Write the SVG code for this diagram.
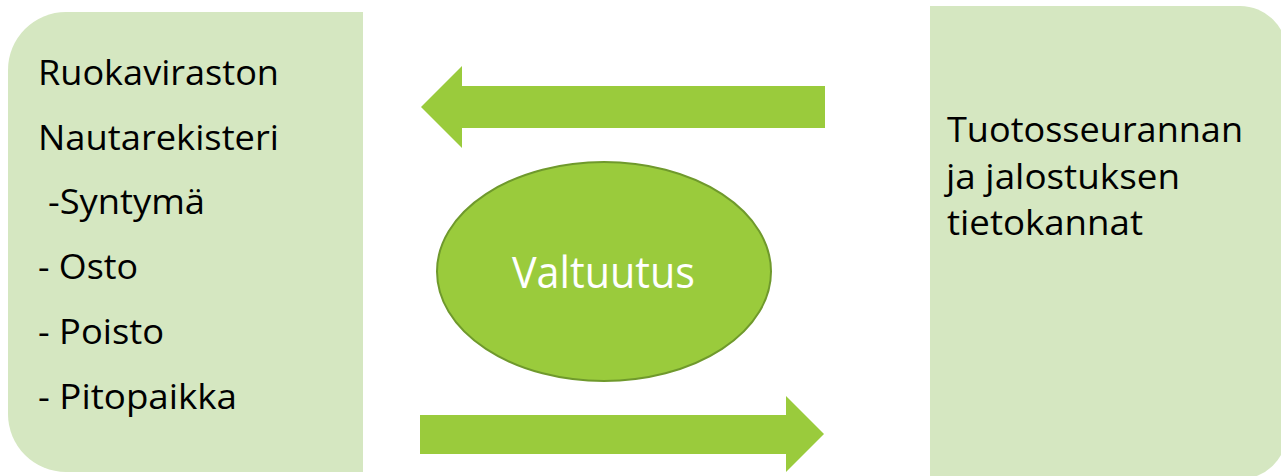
<svg xmlns="http://www.w3.org/2000/svg" width="1281" height="476" viewBox="0 0 1281 476">
  <style>
    .box { fill: #D5E7C1; }
    .arrow { fill: #9ACB3C; }
    .lbl { font-family: "Open Sans", "Noto Sans", sans-serif; font-size: 34px; fill: #000000; }
    .oval-lbl { font-family: "Open Sans", "Noto Sans", sans-serif; font-size: 43px; fill: #FFFFFF; text-anchor: middle; }
  </style>
  <rect width="1281" height="476" fill="#FFFFFF"/>
  <g id="node-ruokavirasto">
    <path class="box" d="M363,12 L66,12 A58,58 0 0 0 8,70 L8,414 A58,58 0 0 0 66,472 L363,472 Z"/>
    <text class="lbl" x="38" y="85" textLength="241" lengthAdjust="spacingAndGlyphs">Ruokaviraston</text>
    <text class="lbl" x="38" y="150" textLength="241" lengthAdjust="spacingAndGlyphs">Nautarekisteri</text>
    <text class="lbl" x="48" y="214" textLength="157" lengthAdjust="spacingAndGlyphs">-Syntymä</text>
    <text class="lbl" x="38" y="279" textLength="100" lengthAdjust="spacingAndGlyphs">- Osto</text>
    <text class="lbl" x="38" y="344" textLength="126" lengthAdjust="spacingAndGlyphs">- Poisto</text>
    <text class="lbl" x="38" y="409" textLength="199" lengthAdjust="spacingAndGlyphs">- Pitopaikka</text>
  </g>
  <g id="node-tietokannat">
    <path class="box" d="M930,6 L1240,6 A47,47 0 0 1 1287,53 L1287,432 A47,47 0 0 1 1240,479 L930,479 Z"/>
    <text class="lbl" x="947" y="142" textLength="296" lengthAdjust="spacingAndGlyphs">Tuotosseurannan</text>
    <text class="lbl" x="946" y="189" textLength="234" lengthAdjust="spacingAndGlyphs">ja jalostuksen</text>
    <text class="lbl" x="947" y="235" textLength="196" lengthAdjust="spacingAndGlyphs">tietokannat</text>
  </g>
  <g id="node-valtuutus">
    <ellipse cx="604" cy="271.5" rx="167" ry="109.5" fill="#9ACB3C" stroke="#6F992C" stroke-width="2"/>
    <text class="oval-lbl" x="603.5" y="288" textLength="183" lengthAdjust="spacingAndGlyphs">Valtuutus</text>
  </g>
  <g id="connectors">
    <polygon class="arrow" points="825,86 462,86 462,66 421,107 462,148 462,128 825,128"/>
    <polygon class="arrow" points="420,415 786,415 786,396 824,434 786,472 786,454 420,454"/>
  </g>
</svg>
